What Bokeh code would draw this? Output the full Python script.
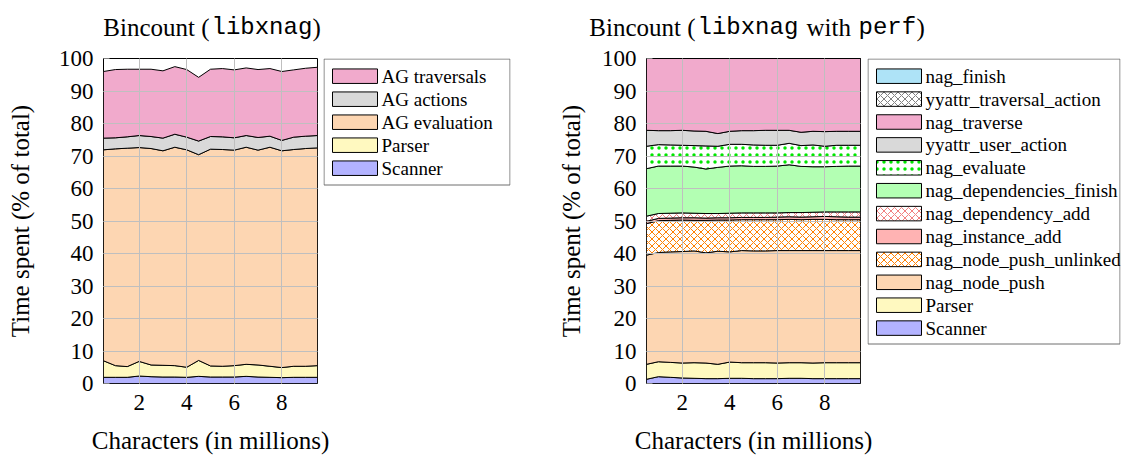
import numpy as np
from bokeh.plotting import figure
from bokeh.models import Range1d, FixedTicker, Spacer
from bokeh.core.properties import value
from bokeh.layouts import row, column
from bokeh.embed import file_html
from bokeh.resources import INLINE

# ---------------- data ----------------
chars_millions = [0.5, 1.0, 1.5, 2.0, 2.5, 3.0, 3.5, 4.0, 4.5, 5.0,
                  5.5, 6.0, 6.5, 7.0, 7.5, 8.0, 8.5, 9.0, 9.5]
x_ticks = [2, 4, 6, 8]
y_ticks = [0, 10, 20, 30, 40, 50, 60, 70, 80, 90, 100]

# left panel: Bincount (libxnag) -- percent of total per component
l_scanner = [1.9, 1.9, 1.9, 2.3, 2.1, 2.0, 2.0, 1.9, 2.2, 2.0, 2.0, 2.0, 2.2, 2.0, 1.9, 1.8, 1.9, 1.9, 1.9]
l_parser = [5.1, 3.6, 3.3, 4.5, 3.6, 3.6, 3.5, 3.1, 4.9, 3.4, 3.3, 3.5, 3.7, 3.7, 3.4, 3.1, 3.4, 3.4, 3.6]
l_ag_evaluation = [64.9, 66.7, 67.2, 65.8, 66.6, 66.0, 67.2, 66.9, 63.3, 66.7, 66.7, 66.3, 66.8, 66.1, 67.4, 66.7, 66.7, 67.0, 67.0]
l_ag_actions = [3.6, 3.4, 3.5, 3.7, 3.7, 3.9, 4.0, 3.9, 4.2, 3.9, 3.9, 3.8, 3.6, 3.9, 3.4, 3.2, 3.8, 3.8, 3.8]
l_ag_traversals = [20.5, 21.0, 20.8, 20.4, 20.7, 20.7, 20.8, 20.8, 19.6, 20.7, 21.0, 20.9, 20.8, 20.9, 20.8, 21.2, 20.7, 20.9, 21.0]

# right panel: Bincount (libxnag with perf)
r_scanner = [1.3, 2.1, 1.9, 1.7, 1.6, 1.5, 1.5, 1.6, 1.6, 1.5, 1.5, 1.5, 1.6, 1.6, 1.5, 1.5, 1.5, 1.5, 1.5]
r_parser = [4.6, 4.6, 4.6, 4.6, 4.8, 4.8, 4.4, 5.0, 4.8, 4.9, 4.9, 4.8, 4.8, 4.8, 4.8, 4.9, 4.9, 4.9, 4.9]
r_node_push = [33.6, 33.6, 34.0, 34.3, 34.4, 33.9, 34.8, 33.9, 34.5, 34.4, 34.4, 34.6, 34.5, 34.5, 34.6, 34.5, 34.5, 34.5, 34.5]
r_node_push_unlinked = [9.7, 9.8, 9.7, 9.7, 9.4, 10.0, 9.6, 9.8, 9.5, 9.6, 9.6, 9.5, 9.6, 9.5, 9.6, 9.6, 9.5, 9.5, 9.5]
r_instance_add = [0.7, 0.7, 0.7, 0.7, 0.8, 0.7, 0.7, 0.7, 0.7, 0.7, 0.7, 0.8, 0.8, 0.8, 0.8, 0.9, 0.9, 0.8, 0.8]
r_dependency_add = [1.6, 1.5, 1.5, 1.5, 1.4, 1.4, 1.3, 1.4, 1.4, 1.4, 1.4, 1.3, 1.3, 1.4, 1.4, 1.4, 1.5, 1.6, 1.6]
r_dependencies_finish = [14.6, 14.6, 14.5, 14.4, 14.2, 13.7, 14.2, 14.5, 14.5, 14.3, 14.3, 14.4, 14.7, 14.2, 14.0, 13.9, 14.0, 14.1, 14.1]
r_evaluate = [6.9, 6.6, 6.5, 6.4, 6.6, 7.1, 6.5, 6.7, 6.6, 6.6, 6.5, 6.4, 6.6, 6.4, 6.7, 6.3, 6.5, 6.4, 6.4]
r_user_action = [4.9, 4.3, 4.4, 4.6, 4.5, 4.5, 3.9, 4.0, 4.2, 4.4, 4.6, 4.6, 4.0, 4.1, 4.2, 4.5, 4.3, 4.3, 4.3]
r_traverse = [22.1, 22.2, 22.2, 22.1, 22.3, 22.4, 23.1, 22.4, 22.2, 22.2, 22.1, 22.1, 22.1, 22.7, 22.4, 22.5, 22.4, 22.4, 22.4]
r_traversal_action = [0.0, 0.0, 0.0, 0.0, 0.0, 0.0, 0.0, 0.0, 0.0, 0.0, 0.0, 0.0, 0.0, 0.0, 0.0, 0.0, 0.0, 0.0, 0.0]
r_finish = [0.0, 0.0, 0.0, 0.0, 0.0, 0.0, 0.0, 0.0, 0.0, 0.0, 0.0, 0.0, 0.0, 0.0, 0.0, 0.0, 0.0, 0.0, 0.0]

x_axis_title = "Characters (in millions)"
y_axis_title = "Time spent (% of total)"

SERIF = "Liberation Serif"
MONO = "Liberation Mono"

C_BLUE = "#B3B3FF"
C_YELLOW = "#FFF9C0"
C_ORANGE = "#FDD6B2"
C_GRAY = "#D9D9D9"
C_PINK = "#F1AACC"
C_GREEN = "#B3FFB3"
C_RED = "#FFB3B3"
C_CYAN = "#AEE3F7"

XH = dict(hatch_pattern="diagonal_cross", hatch_scale=7, hatch_weight=1)
DOTS = dict(hatch_pattern="dot", hatch_scale=7, hatch_weight=1.3)

PANEL_H = 379
BORDER_TOP = 12
BORDER_BOTTOM = 42
FRAME_H = PANEL_H - BORDER_TOP - BORDER_BOTTOM


def blank_fig(width, height, x_end, y_end, **borders):
    f = figure(width=width, height=height, x_range=Range1d(0, x_end), y_range=Range1d(y_end, 0),
               output_backend="svg", toolbar_location=None,
               x_axis_location=None, y_axis_location=None, **borders)
    f.grid.visible = False
    f.outline_line_color = None
    f.background_fill_color = "white"
    f.border_fill_color = "white"
    return f


def make_fig(width, left_border, right_border, ylabel_standoff):
    p = figure(width=width, height=PANEL_H, x_range=Range1d(0.5, 9.5), y_range=Range1d(0, 100),
               output_backend="svg", toolbar_location=None,
               min_border_left=left_border, min_border_right=right_border,
               min_border_top=BORDER_TOP, min_border_bottom=BORDER_BOTTOM)
    p.background_fill_color = "white"
    p.border_fill_color = "white"
    p.outline_line_color = "black"
    p.outline_line_width = 1
    p.xaxis.ticker = FixedTicker(ticks=x_ticks)
    p.yaxis.ticker = FixedTicker(ticks=y_ticks)
    p.xgrid.ticker = FixedTicker(ticks=x_ticks)
    p.ygrid.ticker = FixedTicker(ticks=y_ticks)
    for g in (p.xgrid, p.ygrid):
        g.grid_line_color = "#BFBFBF"
        g.grid_line_width = 1
        g.level = "guide"
    for ax in (p.xaxis, p.yaxis):
        ax.axis_line_color = None
        ax.major_tick_in = 6
        ax.major_tick_out = 0
        ax.major_tick_line_color = "#808080"
        ax.minor_tick_line_color = None
        ax.major_label_text_font = SERIF
        ax.major_label_text_font_size = "23px"
        ax.major_label_text_color = "black"
        ax.axis_label_text_font = SERIF
        ax.axis_label_text_font_size = "25px"
        ax.axis_label_text_font_style = "normal"
        ax.axis_label_text_color = "black"
    p.yaxis.axis_label = y_axis_title
    p.xaxis.major_label_standoff = 11
    p.yaxis.major_label_standoff = 10
    p.yaxis.axis_label_standoff = ylabel_standoff
    return p


def stack(p, layers):
    x = np.array(chars_millions)
    bottom = np.zeros(len(x))
    for vals, name, style in layers:
        top = bottom + np.array(vals)
        xs = np.concatenate([x, x[::-1]])
        ys = np.concatenate([top, bottom[::-1]])
        p.patch(xs, ys, line_color="black", line_width=1, **style)
        bottom = top


def legend_fig(layers, box_w, box_h, first_center, pitch):
    # a figure with the same frame height as the panels; legend box drawn at its top
    lf = blank_fig(box_w + 2, PANEL_H, box_w, FRAME_H,
                   min_border_left=1, min_border_right=1,
                   min_border_top=BORDER_TOP, min_border_bottom=BORDER_BOTTOM)
    lf.rect(x=[box_w / 2], y=[box_h / 2], width=[box_w - 1], height=[box_h - 1],
            fill_color="white", line_color="#6E6E6E", line_width=1)
    for i, (vals, name, style) in enumerate(reversed(layers)):
        cy = first_center + i * pitch
        lf.rect(x=[31.5], y=[cy], width=[45], height=[14.5], line_color="black", line_width=1, **style)
        lf.text(x=[58], y=[cy], text=[name], text_font=value(SERIF), text_font_size="19px",
                text_baseline="middle", text_align="left", text_color="black")
    return lf


left_layers = [
    (l_scanner, "Scanner", dict(fill_color=C_BLUE)),
    (l_parser, "Parser", dict(fill_color=C_YELLOW)),
    (l_ag_evaluation, "AG evaluation", dict(fill_color=C_ORANGE)),
    (l_ag_actions, "AG actions", dict(fill_color=C_GRAY)),
    (l_ag_traversals, "AG traversals", dict(fill_color=C_PINK)),
]
right_layers = [
    (r_scanner, "Scanner", dict(fill_color=C_BLUE)),
    (r_parser, "Parser", dict(fill_color=C_YELLOW)),
    (r_node_push, "nag_node_push", dict(fill_color=C_ORANGE)),
    (r_node_push_unlinked, "nag_node_push_unlinked", dict(fill_color="white", hatch_color="#FF8000", **XH)),
    (r_instance_add, "nag_instance_add", dict(fill_color=C_RED)),
    (r_dependency_add, "nag_dependency_add", dict(fill_color="white", hatch_color="#F28080", **XH)),
    (r_dependencies_finish, "nag_dependencies_finish", dict(fill_color=C_GREEN)),
    (r_evaluate, "nag_evaluate", dict(fill_color="white", hatch_color="#00E600", **DOTS)),
    (r_user_action, "yyattr_user_action", dict(fill_color=C_GRAY)),
    (r_traverse, "nag_traverse", dict(fill_color=C_PINK)),
    (r_traversal_action, "yyattr_traversal_action", dict(fill_color="white", hatch_color="#808080", **XH)),
    (r_finish, "nag_finish", dict(fill_color=C_CYAN)),
]

# ---------------- main panels ----------------
p1 = make_fig(322, 103, 5, 22)
stack(p1, left_layers)
lg1 = legend_fig(left_layers, 187, 127, 17.7, 23.0)

p2 = make_fig(316, 96, 6, 14)
stack(p2, right_layers)
lg2 = legend_fig(right_layers, 253, 286, 17.7, 22.9)

# ---------------- titles (mixed roman / typewriter) ----------------
title_x = [209, 211, 312, 695, 697, 806, 858, 916]
title_text = ["Bincount (", "libxnag", ")", "Bincount (", "libxnag", "with", "perf", ")"]
title_font = [SERIF, MONO, SERIF, SERIF, MONO, SERIF, MONO, SERIF]
title_size = ["25px", "24px", "25px", "25px", "24px", "25px", "24px", "25px"]
title_align = ["right", "left", "left", "right", "left", "left", "left", "left"]
tf = blank_fig(1135, 46, 1135, 46, min_border=0)
for tx, tt, fnt, fs, al in zip(title_x, title_text, title_font, title_size, title_align):
    tf.text(x=[tx], y=[26.7], text=[tt], text_font=value(fnt), text_font_size=fs,
            text_baseline="alphabetic", text_align=al, text_color="black")

# ---------------- x-axis titles under both panels ----------------
bf = blank_fig(1135, 34, 1135, 34, min_border=0)
bf.text(x=[210, 753], y=[15, 15], text=[x_axis_title, x_axis_title], text_font=value(SERIF),
        text_font_size="25px", text_baseline="middle", text_align="center", text_color="black")

layout = column(tf,
                row(p1, lg1, Spacer(width=39, height=10), p2, lg2, Spacer(width=14, height=10)),
                bf)
open("out.html", "w").write(file_html(layout, INLINE))
